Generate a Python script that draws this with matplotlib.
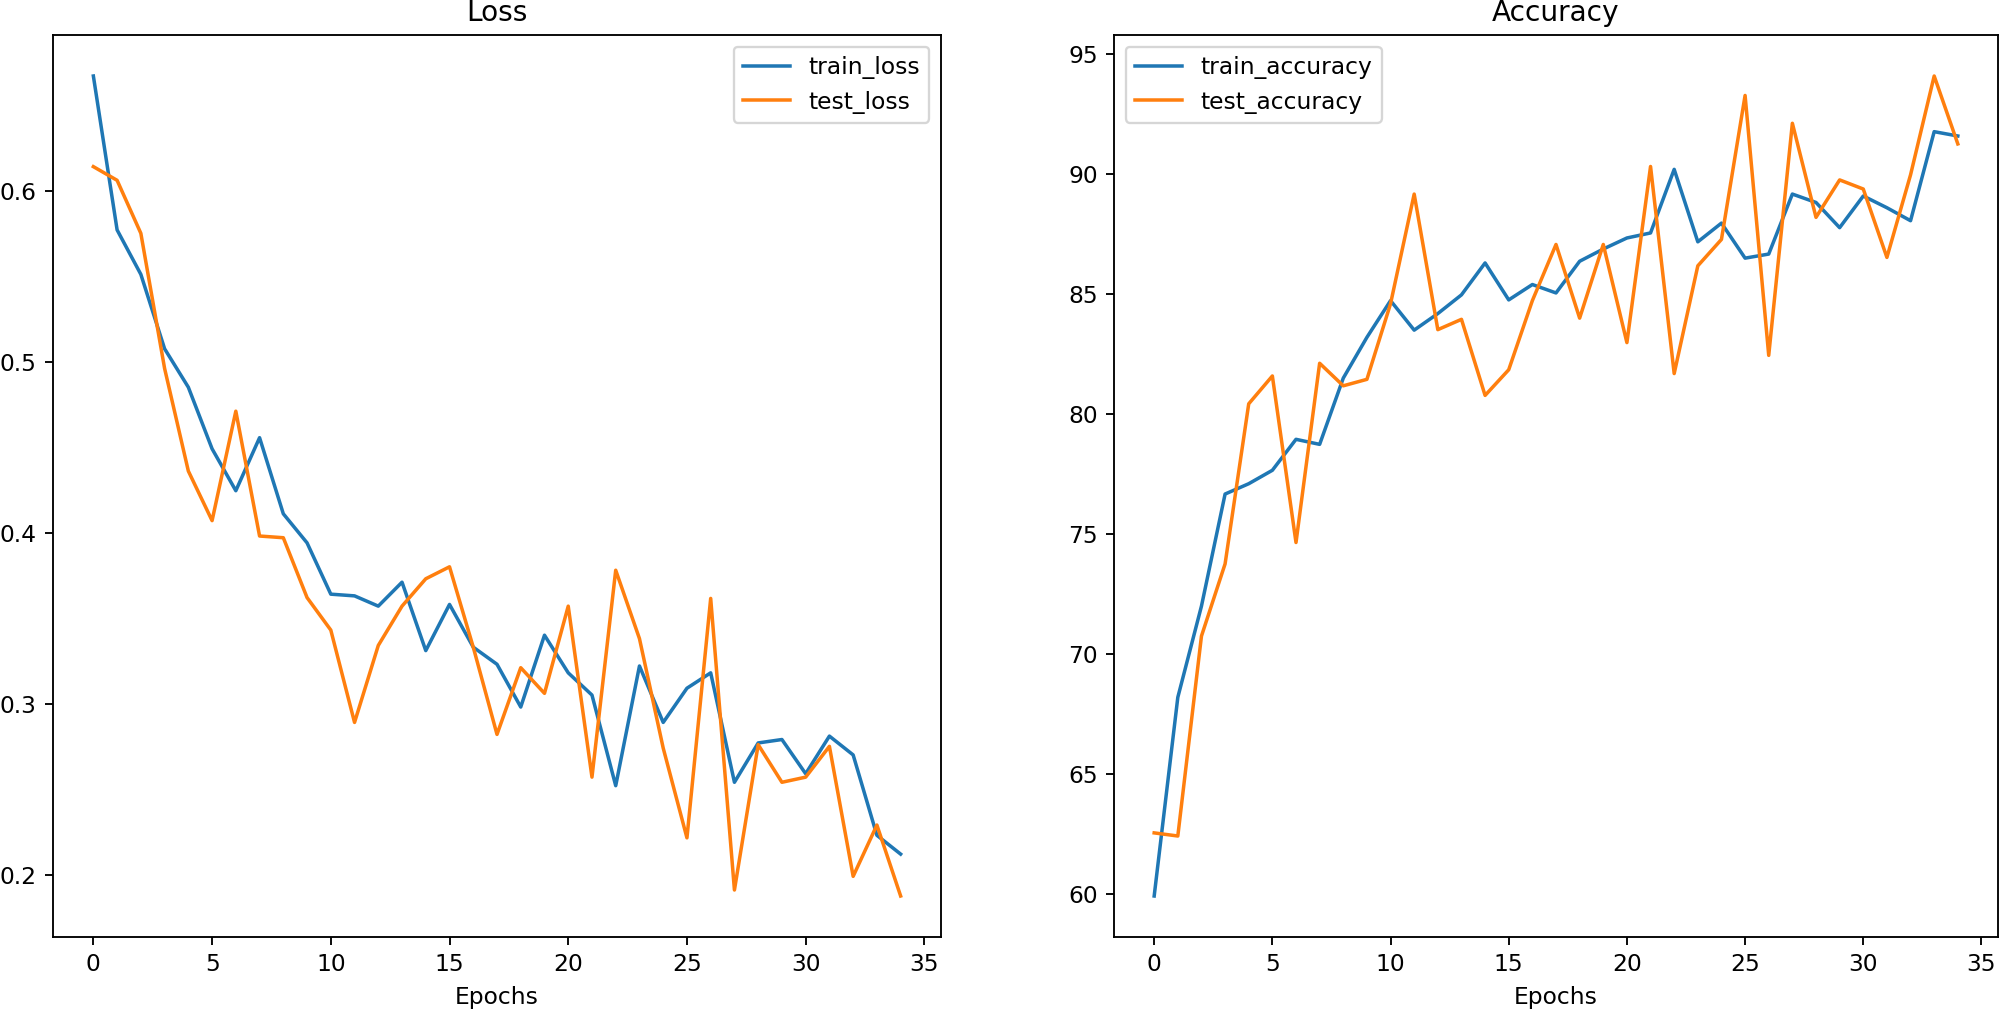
import matplotlib
matplotlib.use('Agg')
from matplotlib import pyplot as plt

epochs = list(range(35))

train_loss = [0.667, 0.577, 0.551, 0.5075, 0.485, 0.449, 0.4245, 0.4555, 0.411, 0.394,
              0.364, 0.363, 0.357, 0.371, 0.331, 0.358, 0.333, 0.323, 0.298, 0.340,
              0.318, 0.305, 0.252, 0.322, 0.289, 0.309, 0.318, 0.254, 0.277, 0.279,
              0.259, 0.281, 0.270, 0.223, 0.212]
test_loss = [0.614, 0.606, 0.575, 0.496, 0.436, 0.407, 0.471, 0.398, 0.397, 0.362,
             0.343, 0.289, 0.334, 0.357, 0.373, 0.380, 0.333, 0.282, 0.321, 0.306,
             0.357, 0.257, 0.378, 0.338, 0.274, 0.2215, 0.3615, 0.191, 0.276, 0.254,
             0.257, 0.275, 0.199, 0.229, 0.1875]

train_accuracy = [59.92, 68.2, 72.0, 76.67, 77.1, 77.66, 78.95, 78.74, 81.5, 83.2,
                  84.73, 83.5, 84.19, 84.97, 86.3, 84.76, 85.4, 85.05, 86.37, 86.88,
                  87.34, 87.55, 90.2, 87.18, 87.96, 86.5, 86.67, 89.17, 88.82, 87.77,
                  89.09, 88.6, 88.06, 91.77, 91.59]
test_accuracy = [62.55, 62.42, 70.75, 73.76, 80.43, 81.59, 74.65, 82.12, 81.18, 81.45,
                 84.6, 89.17, 83.52, 83.95, 80.78, 81.85, 84.73, 87.07, 84.0, 87.07,
                 82.98, 90.32, 81.69, 86.18, 87.28, 93.28, 82.45, 92.12, 88.2, 89.76,
                 89.38, 86.53, 89.97, 94.09, 91.26]

fig = plt.figure(figsize=(2001 / 168, 1012 / 168), dpi=168)

# axes placed to match the cropped layout of the original screenshot
ax1 = fig.add_axes([53 / 2001, 75 / 1012, 888 / 2001, 902 / 1012])
ax2 = fig.add_axes([1114 / 2001, 75 / 1012, 884 / 2001, 902 / 1012])

ax1.plot(epochs, train_loss, label='train_loss')
ax1.plot(epochs, test_loss, label='test_loss')
ax1.set_title('Loss')
ax1.set_xlabel('Epochs')
ax1.legend()

ax2.plot(epochs, train_accuracy, label='train_accuracy')
ax2.plot(epochs, test_accuracy, label='test_accuracy')
ax2.set_title('Accuracy')
ax2.set_xlabel('Epochs')
ax2.legend()

fig.savefig('out.png', dpi=168)
